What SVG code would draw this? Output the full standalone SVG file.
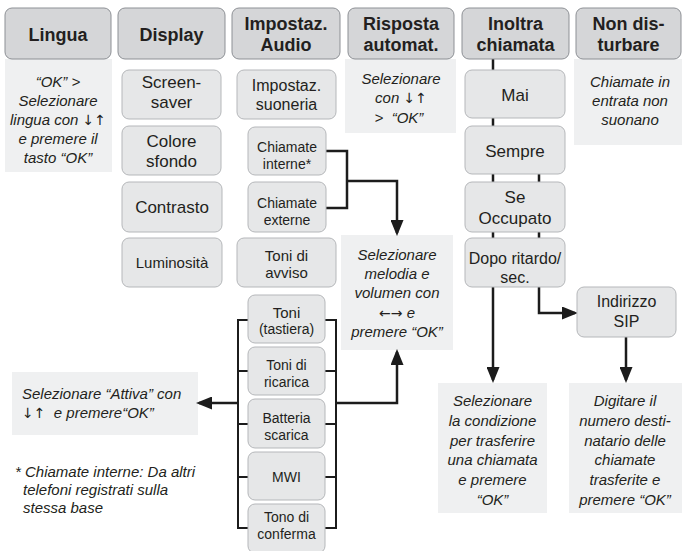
<svg xmlns="http://www.w3.org/2000/svg" width="682" height="551" viewBox="0 0 682 551">
<defs>
<marker id="ah" markerUnits="userSpaceOnUse" markerWidth="16" markerHeight="13" refX="13" refY="6.5" orient="auto">
<path d="M0,0 L16,6.5 L0,13 z" fill="#1c1c1c"/>
</marker>
<style>
text{font-family:"Liberation Sans",Arial,Helvetica,sans-serif;fill:#231f20;text-anchor:middle}
.hd{fill:#d5d6d8;stroke:#8d9095;stroke-width:1}
.hdt{font-weight:bold;font-size:18px}
.bx{fill:#e6e7e8;stroke:#b5b7ba;stroke-width:1}
.pn{fill:#eff0f1}
.t17{font-size:17px}
.t16{font-size:16px}
.t15{font-size:15px}
.t14{font-size:14px}
.it{font-style:italic;font-size:15px}
.aw{font-family:"DejaVu Sans",sans-serif;font-style:normal;font-size:14px}
.ln{fill:none;stroke:#1c1c1c;stroke-width:2.5}
.br{fill:none;stroke:#1c1c1c;stroke-width:2}
.ar{fill:none;stroke:#1c1c1c;stroke-width:2.5;marker-end:url(#ah)}
</style>
</defs>
<rect width="682" height="551" fill="#ffffff"/>

<!-- panels -->
<g id="panels">
<rect class="pn" x="5" y="59" width="107" height="113"/>
<rect class="pn" x="345" y="59" width="111" height="74"/>
<rect class="pn" x="574" y="59" width="108" height="86"/>
<rect class="pn" x="341" y="235" width="112" height="115"/>
<rect class="pn" x="12" y="372" width="186" height="63"/>
<rect class="pn" x="438" y="383" width="109" height="130"/>
<rect class="pn" x="569" y="383" width="113" height="130"/>
</g>

<!-- connectors -->
<g id="connectors">
<path class="ln" d="M326,151 H347 V208 H326"/>
<path class="ar" d="M347,181 H397 V233"/>
<path class="br" d="M248,320 H238 V528 H248 M238,371 H248 M238,424 H248 M238,477 H248"/>
<path class="br" d="M325,320 H336 V528 H325 M325,371 H336 M325,424 H336 M325,477 H336"/>
<path class="ar" d="M238,403 H199"/>
<path class="ar" d="M336,403 H397 V352"/>
<path class="ln" d="M493,59 V70 M493,118 V126 M493,174 V182 M539,174 V182 M493,232 V238 M539,232 V238"/>
<path class="ar" d="M493,287 V380"/>
<path class="ar" d="M539,287 V313 H575"/>
<path class="ar" d="M626,337 V380"/>
</g>

<!-- headers -->
<g id="h-lingua"><rect class="hd" x="5" y="8" width="106" height="51" rx="7"/><text class="hdt" x="58" y="41">Lingua</text></g>
<g id="h-display"><rect class="hd" x="118" y="8" width="107" height="51" rx="7"/><text class="hdt" x="171.5" y="41">Display</text></g>
<g id="h-audio"><rect class="hd" x="232" y="8" width="108" height="51" rx="7"/><text class="hdt" x="286" y="30">Impostaz.</text><text class="hdt" x="286" y="51">Audio</text></g>
<g id="h-risposta"><rect class="hd" x="348" y="8" width="106" height="51" rx="7"/><text class="hdt" x="401" y="30">Risposta</text><text class="hdt" x="401" y="51">automat.</text></g>
<g id="h-inoltra"><rect class="hd" x="462" y="8" width="107" height="51" rx="7"/><text class="hdt" x="515.5" y="30">Inoltra</text><text class="hdt" x="515.5" y="51">chiamata</text></g>
<g id="h-nondist"><rect class="hd" x="576" y="8" width="105" height="51" rx="7"/><text class="hdt" x="628.5" y="30">Non dis-</text><text class="hdt" x="628.5" y="51">turbare</text></g>

<!-- panel texts -->
<g id="t-lingua"><text class="it" x="58" y="87">“OK” &gt;</text><text class="it" x="58" y="106">Selezionare</text><text class="it" x="58" y="125">lingua con <tspan class="aw">↓↑</tspan></text><text class="it" x="58" y="144">e premere il</text><text class="it" x="58" y="163">tasto “OK”</text></g>
<g id="t-risposta"><text class="it" x="401" y="84">Selezionare</text><text class="it" x="401" y="103">con <tspan class="aw">↓↑</tspan></text><text class="it" x="399" y="123" xml:space="preserve">&gt;  “OK”</text></g>
<g id="t-nondist"><text class="it" x="630" y="87">Chiamate in</text><text class="it" x="630" y="106">entrata non</text><text class="it" x="630" y="125">suonano</text></g>
<g id="t-melodia"><text class="it" x="397" y="260">Selezionare</text><text class="it" x="397" y="279">melodia e</text><text class="it" x="397" y="298">volumen con</text><text class="it" x="397" y="318"><tspan class="aw">←→</tspan> e</text><text class="it" x="397" y="337">premere “OK”</text></g>
<g id="t-attiva"><text class="it" x="22" y="399" style="text-anchor:start">Selezionare “Attiva” con</text><text class="it" x="22" y="418" style="text-anchor:start" xml:space="preserve"><tspan class="aw">↓↑</tspan>  e premere“OK”</text></g>
<g id="t-condizione"><text class="it" x="492.5" y="406">Selezionare</text><text class="it" x="492.5" y="426">la condizione</text><text class="it" x="492.5" y="446">per trasferire</text><text class="it" x="492.5" y="465">una chiamata</text><text class="it" x="492.5" y="485">e premere</text><text class="it" x="492.5" y="505">“OK”</text></g>
<g id="t-digitare"><text class="it" x="625" y="406">Digitare il</text><text class="it" x="625" y="426">numero desti-</text><text class="it" x="625" y="446">natario delle</text><text class="it" x="625" y="465">chiamate</text><text class="it" x="625" y="485">trasferite e</text><text class="it" x="625" y="505">premere “OK”</text></g>
<g id="t-footnote"><text class="it" x="15" y="477" style="text-anchor:start">* Chiamate interne: Da altri</text><text class="it" x="23" y="495" style="text-anchor:start">telefoni registrati sulla</text><text class="it" x="23" y="513" style="text-anchor:start">stessa base</text></g>

<!-- Display column -->
<g id="n-screensaver"><rect class="bx" x="122" y="70" width="99" height="49" rx="7"/><text class="t17" x="171.5" y="88">Screen-</text><text class="t17" x="171.5" y="108">saver</text></g>
<g id="n-colore"><rect class="bx" x="122" y="126" width="99" height="49" rx="7"/><text class="t17" x="171.5" y="147">Colore</text><text class="t17" x="171.5" y="167">sfondo</text></g>
<g id="n-contrasto"><rect class="bx" x="122" y="182" width="100" height="50" rx="7"/><text class="t17" x="172" y="213">Contrasto</text></g>
<g id="n-luminosita"><rect class="bx" x="122" y="238" width="100" height="49" rx="7"/><text class="t15" x="172" y="268">Luminosità</text></g>

<!-- Audio column -->
<g id="n-suoneria"><rect class="bx" x="237" y="70" width="99" height="49" rx="7"/><text class="t16" x="286.5" y="91">Impostaz.</text><text class="t16" x="286.5" y="110">suoneria</text></g>
<g id="n-interne"><rect class="bx" x="248" y="127" width="78" height="48" rx="7"/><text class="t14" x="287" y="152">Chiamate</text><text class="t14" x="287" y="169">interne*</text></g>
<g id="n-externe"><rect class="bx" x="248" y="182" width="78" height="50" rx="7"/><text class="t14" x="287" y="208">Chiamate</text><text class="t14" x="287" y="225">externe</text></g>
<g id="n-avviso"><rect class="bx" x="237" y="238" width="99" height="49" rx="7"/><text class="t15" x="286.5" y="261">Toni di</text><text class="t15" x="286.5" y="278">avviso</text></g>
<g id="n-tastiera"><rect class="bx" x="248" y="295" width="77" height="48" rx="7"/><text class="t15" x="286.5" y="318">Toni</text><text class="t14" x="286.5" y="334">(tastiera)</text></g>
<g id="n-ricarica"><rect class="bx" x="248" y="347" width="77" height="48" rx="7"/><text class="t14" x="286.5" y="370">Toni di</text><text class="t14" x="286.5" y="387">ricarica</text></g>
<g id="n-batteria"><rect class="bx" x="248" y="399" width="77" height="49" rx="7"/><text class="t14" x="286.5" y="423">Batteria</text><text class="t14" x="286.5" y="440">scarica</text></g>
<g id="n-mwi"><rect class="bx" x="248" y="452" width="77" height="48" rx="7"/><text class="t14" x="286.5" y="482">MWI</text></g>
<g id="n-conferma"><rect class="bx" x="248" y="504" width="77" height="49" rx="7"/><text class="t14" x="286.5" y="522">Tono di</text><text class="t14" x="286.5" y="539">conferma</text></g>

<!-- Inoltra column -->
<g id="n-mai"><rect class="bx" x="465" y="70" width="100" height="48" rx="7"/><text class="t17" x="515" y="101">Mai</text></g>
<g id="n-sempre"><rect class="bx" x="465" y="126" width="100" height="48" rx="7"/><text class="t17" x="515" y="157">Sempre</text></g>
<g id="n-occupato"><rect class="bx" x="465" y="182" width="100" height="50" rx="7"/><text class="t17" x="515" y="203">Se</text><text class="t17" x="515" y="224">Occupato</text></g>
<g id="n-dopo"><rect class="bx" x="465" y="238" width="100" height="49" rx="7"/><text class="t16" x="515" y="264">Dopo ritardo/</text><text class="t16" x="515" y="283">sec.</text></g>
<g id="n-sip"><rect class="bx" x="577" y="287" width="99" height="50" rx="7"/><text class="t16" x="626.5" y="307">Indirizzo</text><text class="t16" x="626.5" y="327">SIP</text></g>
</svg>
